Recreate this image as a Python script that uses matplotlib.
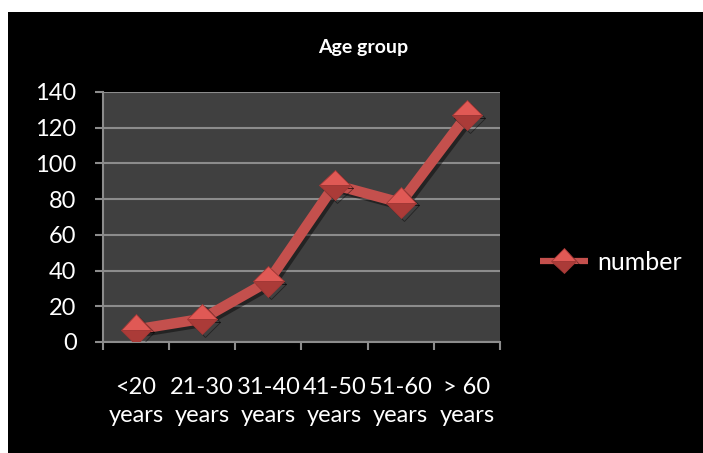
import numpy as np
import matplotlib.pyplot as plt
import matplotlib.patheffects as pe
from matplotlib.patches import Rectangle
from matplotlib.lines import Line2D

plt.rcParams['font.family'] = ['Lato', 'DejaVu Sans']

# age groups and counts
groups = ['<20\nyears', '21-30\nyears', '31-40\nyears', '41-50\nyears', '51-60\nyears', '> 60\nyears']
number = [7, 13, 34, 88, 78, 127]
yticks = [0, 20, 40, 60, 80, 100, 120, 140]

W, H = 703, 453
fig = plt.figure(figsize=(W / 100, H / 100), dpi=100, facecolor='white')

# black chart area
fig.patches.append(Rectangle((8 / W, 0), 1 - 8 / W, 1 - 12 / H, transform=fig.transFigure,
                             facecolor='black', edgecolor='none', zorder=-10))

ax = fig.add_axes([103 / W, 1 - 342 / H, (500 - 103) / W, (342 - 92) / H])
ax.set_facecolor('#404040')

mstyle = dict(color='#c4504d', marker='D', fillstyle='top', markerfacecolor='#e05955',
              markerfacecoloralt='#ab3b38', markeredgecolor='#a23836', markeredgewidth=0.6,
              solid_capstyle='butt')
shadow = [pe.SimpleLineShadow(offset=(2, -2), shadow_color='black', alpha=0.45), pe.Normal()]

x = np.arange(len(groups))
line, = ax.plot(x, number, lw=7.5, markersize=15.5, zorder=3, **mstyle)
line.set_path_effects(shadow)

# axes
ax.set_xlim(-0.5, len(groups) - 0.5)
ax.set_ylim(0, 140)
ax.set_yticks(yticks)
ax.set_yticklabels([str(v) for v in yticks])
ax.yaxis.grid(True, color='#8c8c8c', lw=1.5)
ax.set_axisbelow(True)

ax.set_xticks(x)
ax.set_xticklabels(groups, linespacing=1.45)
ax.set_xticks(np.arange(-0.5, len(groups)), minor=True)
ax.tick_params(axis='x', which='major', length=0, pad=25, colors='white', labelsize=17)
ax.tick_params(axis='x', which='minor', length=6, width=1.5, color='#8c8c8c', direction='out')
ax.tick_params(axis='y', length=6, width=1.5, color='#8c8c8c', direction='out', pad=13,
               labelcolor='white', labelsize=17)

for s in ['top', 'right']:
    ax.spines[s].set_visible(False)
for s in ['left', 'bottom']:
    ax.spines[s].set_color('#8c8c8c')
    ax.spines[s].set_linewidth(1.5)

# title
fig.text(363 / W, 1 - 47 / H, 'Age group', color='white', fontsize=14, fontweight='bold',
         ha='center', va='center')

# legend, with a slimmer line than the plot
key = Line2D([], [], lw=4.5, markersize=12.5, label='number', **mstyle)
key.set_path_effects(shadow)
leg = fig.legend(handles=[key], loc='center left', bbox_to_anchor=(540 / W, 1 - 262 / H),
                 frameon=False, fontsize=18, handlelength=1.9, handletextpad=0.4,
                 borderpad=0, borderaxespad=0, labelcolor='white')

plt.savefig('out.png', dpi=100, facecolor=fig.get_facecolor())
